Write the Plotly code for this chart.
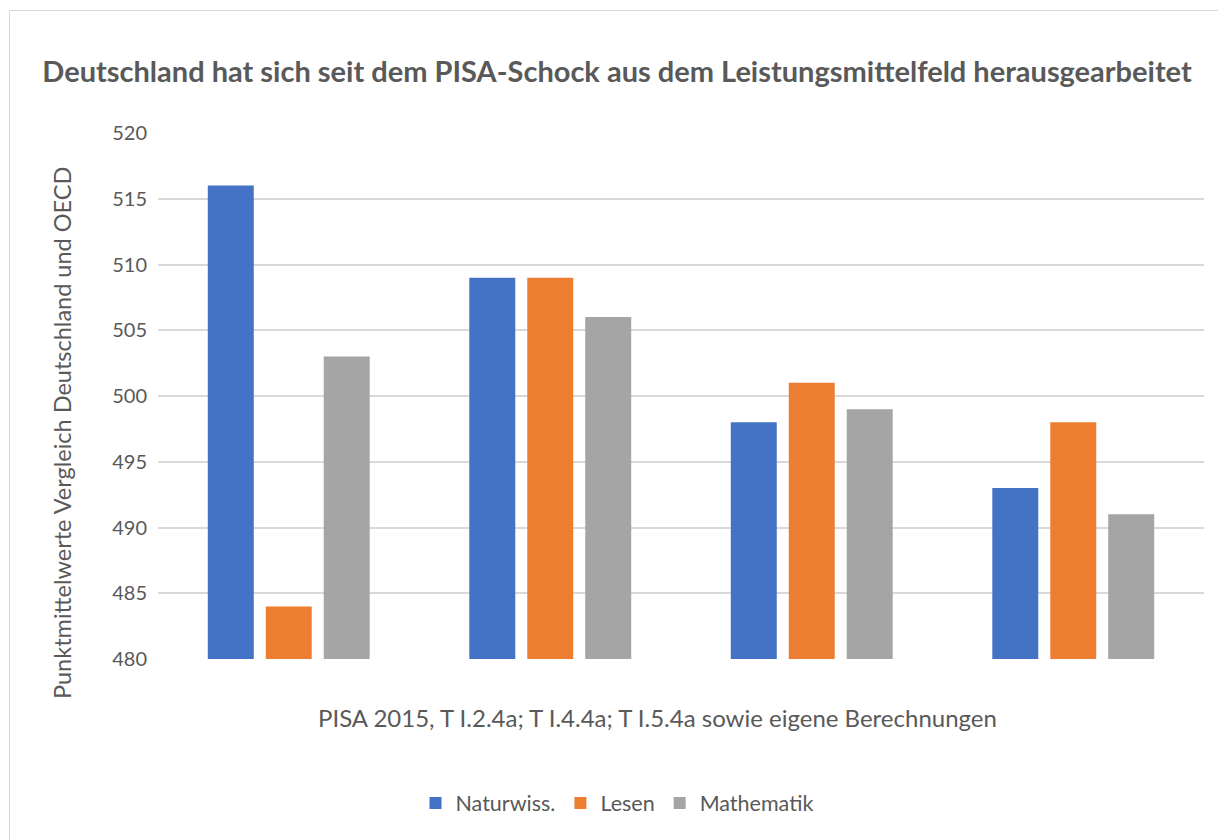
import plotly.graph_objects as go

categories = ["A", "B", "C", "D"]
naturwiss = [516, 509, 498, 493]
lesen = [484, 509, 501, 498]
mathematik = [503, 506, 499, 491]
series_names = ["Naturwiss.", "Lesen", "Mathematik"]
colors = ["#4472C4", "#ED7D31", "#A5A5A5"]
title_text = "Deutschland hat sich seit dem PISA-Schock aus dem Leistungsmittelfeld herausgearbeitet"
y_title = "Punktmittelwerte Vergleich Deutschland und OECD"
x_title = "PISA 2015, T I.2.4a; T I.4.4a; T I.5.4a sowie eigene Berechnungen"

W, H = 1218, 840
L, R, T, B = 158, 14, 133, 181
FONT = "Lato, Carlito, Calibri, sans-serif"
TXT = "#595959"

fig = go.Figure()
for name, vals, col in zip(series_names, [naturwiss, lesen, mathematik], colors):
    fig.add_trace(go.Bar(x=categories, y=vals, name=name, marker=dict(color=col, line=dict(width=0))))

def px_x(p):
    return (p - L) / (W - L - R)

def px_y(p):
    return 1 - (p - T) / (H - T - B)

fig.update_layout(
    width=W, height=H,
    margin=dict(l=L, r=R, t=T, b=B, autoexpand=False),
    paper_bgcolor="white", plot_bgcolor="white",
    barmode="group", bargap=0.335, bargroupgap=0.207,
    font=dict(family=FONT, color=TXT),
    title=dict(text="<b>" + title_text + "</b>", x=617 / W, xanchor="center", xref="container",
               y=1 - 72 / H, yanchor="middle", font=dict(size=29, color=TXT, family=FONT)),
    showlegend=True,
    legend=dict(orientation="h", x=px_x(617), xanchor="center", y=px_y(803), yanchor="middle",
                font=dict(size=21.5, color=TXT, family=FONT), itemwidth=30, traceorder="normal"),
    xaxis=dict(showticklabels=False, showgrid=False, zeroline=False, showline=False, ticks=""),
    yaxis=dict(range=[480, 520], dtick=5, tick0=480, showgrid=True, gridcolor="#D9D9D9", gridwidth=1.6,
               zeroline=False, showline=False, ticks="", ticklabelstandoff=10,
               tickfont=dict(size=20, color=TXT, family=FONT)),
    annotations=[
        dict(text=y_title, x=px_x(62), y=px_y(433), xref="paper", yref="paper", textangle=-90,
             showarrow=False, xanchor="center", yanchor="middle", font=dict(size=23.5, color=TXT, family=FONT)),
        dict(text=x_title, x=px_x(657), y=px_y(717), xref="paper", yref="paper",
             showarrow=False, xanchor="center", yanchor="middle", font=dict(size=24, color=TXT, family=FONT)),
    ],
    shapes=[dict(type="rect", xref="paper", yref="paper", x0=px_x(9.5), x1=px_x(1240), y0=px_y(10.5), y1=px_y(870),
                 line=dict(color="#D9D9D9", width=1), fillcolor="rgba(0,0,0,0)", layer="below")],
)

fig.write_html("out.html", config={"displayModeBar": False},
               post_script="document.body.style.margin='0';document.body.style.overflow='hidden';")
